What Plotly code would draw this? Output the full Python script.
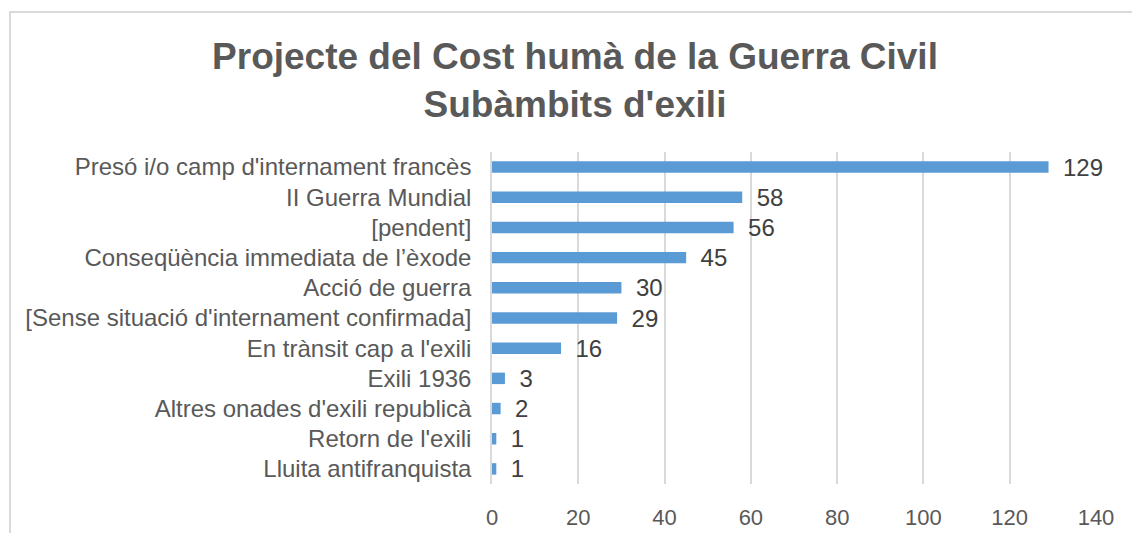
import plotly.graph_objects as go

categories = [
    "Presó i/o camp d'internament francès",
    "II Guerra Mundial",
    "[pendent]",
    "Conseqüència immediata de l’èxode",
    "Acció de guerra",
    "[Sense situació d'internament confirmada]",
    "En trànsit cap a l'exili",
    "Exili 1936",
    "Altres onades d'exili republicà",
    "Retorn de l'exili",
    "Lluita antifranquista",
]
values = [129, 58, 56, 45, 30, 29, 16, 3, 2, 1, 1]
x_ticks = [0, 20, 40, 60, 80, 100, 120, 140]

W, H = 1132, 533
L, R, T, B = 492, 36, 152, 49
pw, ph = W - L - R, H - T - B
FONT = "Liberation Sans, Arial"

fig = go.Figure(
    go.Bar(
        y=categories,
        x=values,
        orientation="h",
        marker=dict(color="#5B9BD5", line=dict(width=0)),
        width=0.38,
        text=values,
        texttemplate="\u00a0\u2009%{text}",
        textposition="outside",
        constraintext="none",
        cliponaxis=False,
        textfont=dict(family=FONT, size=24, color="#404040"),
    )
)

fig.update_layout(
    width=W,
    height=H,
    margin=dict(l=L, r=R, t=T, b=B),
    paper_bgcolor="white",
    plot_bgcolor="white",
    showlegend=False,
    title=dict(
        text="<b>Projecte del Cost humà de la Guerra Civil<br>Subàmbits d'exili</b>",
        x=575 / W,
        xanchor="center",
        y=1 - 69 / H,
        yanchor="middle",
        font=dict(family=FONT, size=37, color="#595959"),
    ),
    xaxis=dict(
        range=[0, 140],
        tickvals=x_ticks,
        showgrid=True,
        gridcolor="#D9D9D9",
        gridwidth=1.5,
        zeroline=False,
        showline=False,
        ticks="",
        automargin=False,
        ticklabelstandoff=18,
        tickfont=dict(family=FONT, size=22, color="#595959"),
    ),
    yaxis=dict(
        categoryorder="array",
        categoryarray=categories[::-1],
        range=[-0.5, 10.5],
        showgrid=False,
        showline=True,
        linecolor="#D9D9D9",
        linewidth=1.5,
        ticks="",
        automargin=False,
        ticklabelstandoff=14,
        tickfont=dict(family=FONT, size=24, color="#595959"),
    ),
    bargap=0.6,
)

# chart frame
fig.add_shape(
    type="rect",
    xref="paper",
    yref="paper",
    x0=(10 - L) / pw,
    x1=(W + 20 - L) / pw,
    y0=-(B + 20) / ph,
    y1=(H - B - 12) / ph,
    line=dict(color="#D9D9D9", width=2),
    fillcolor="rgba(0,0,0,0)",
    layer="below",
)

fig.write_html("out.html")
